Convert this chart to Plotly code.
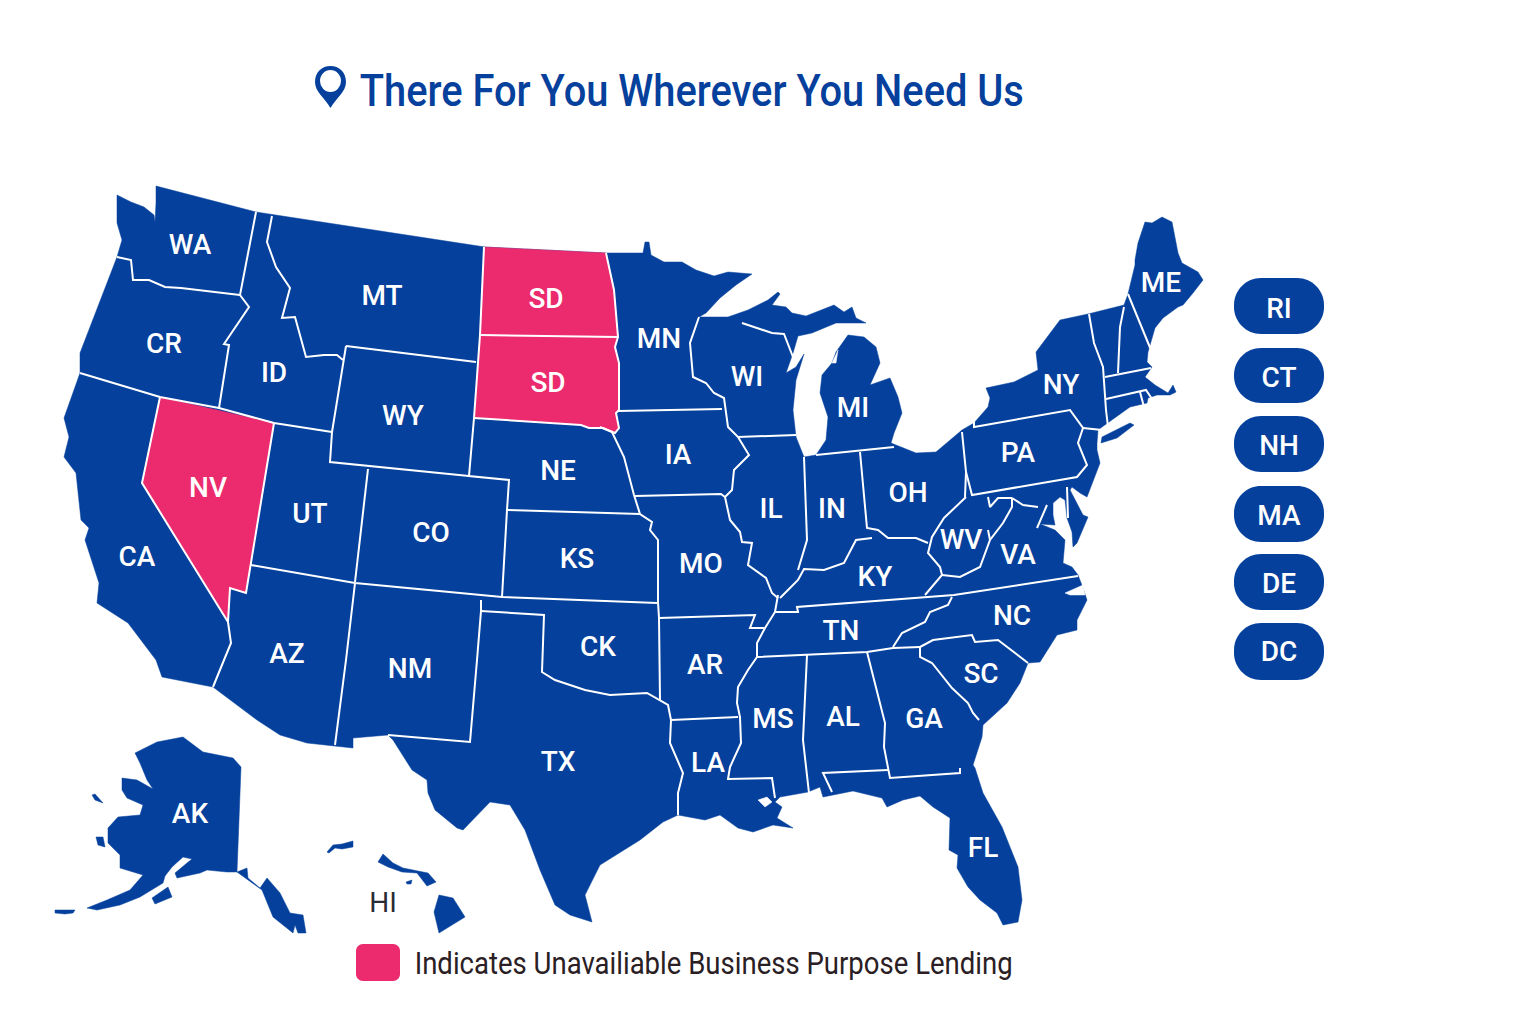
import plotly.graph_objects as go

BLUE = "#04409c"
PINK = "#ec2a6e"

TITLE = "There For You Wherever You Need Us"
LEGEND_TEXT = "Indicates Unavailiable Business Purpose Lending"

# State labels as printed on the map (the source prints CR, CK and two SDs)
MAP_LABELS = ["WA","CR","ID","MT","SD","SD","WY","NV","UT","CO","NE","KS","CA","AZ","NM","CK","TX",
              "MN","WI","MI","IA","IL","IN","OH","MO","AR","LA","MS","AL","TN","KY","GA","SC","NC",
              "FL","WV","VA","PA","NY","ME","AK"]
MAP_LABEL_X = [190,164,274,382,546,548,403,208,310,431,558,577,137,287,410,598,558,
               659,747,853,678,771,832,908,701,705,708,773,843,841,875,924,981,1012,
               983,961,1018,1018,1061,1161,190]
MAP_LABEL_Y = [247,346,375,298,301,385,418,490,516,535,473,561,559,656,671,649,764,
               341,379,410,457,511,511,495,566,667,765,721,719,633,579,721,676,618,
               850,542,557,455,387,285,816]

SIDE_LABELS = ["RI","CT","NH","MA","DE","DC"]
SIDE_LABEL_Y = [311,380,448,518,586,654]
SIDE_TOP = [278,348,416,486,554,623]
SIDE_BOTTOM = [334,403,472,542,610,680]

MAINLAND = [(156,186),(256,212),(485,247),(606,253),(643,253),(645,242),(649,242),(651,255),(664,262),(682,262),
 (696,270),(714,276),(728,272),(752,274),(736,285),(720,298),(706,313),(699,317),(728,317),(748,310),(768,300),
 (778,292),(780,294),(772,305),(786,307),(792,313),(806,316),(834,305),(844,312),(852,307),(856,318),(866,323),
 (856,323),(836,323),(812,333),(798,336),(793,353),(786,373),(796,367),(804,354),(796,380),(793,410),(796,437),
 (804,457),(816,455),(826,440),(828,417),(820,393),(822,375),(832,363),(836,352),(848,335),(864,337),(876,347),
 (880,363),(870,385),(890,378),(898,397),(902,413),(894,433),(891,443),(916,453),(936,452),(962,430),(974,423),
 (988,407),(990,398),(986,388),(1014,382),(1038,370),(1036,352),(1060,320),(1088,314),(1124,305),(1128,294),
 (1135,265),(1135,260),(1138,243),(1145,222),(1152,223),(1162,217),(1172,222),(1178,253),(1182,263),(1198,272),
 (1203,280),(1193,293),(1183,305),(1178,307),(1163,318),(1155,328),(1148,352),(1147,362),(1152,367),(1145,377),
 (1155,385),(1168,393),(1173,385),(1176,392),(1170,395),(1157,395),(1148,398),(1147,403),(1130,407),(1102,427),
 (1098,430),(1097,443),(1097,450),(1100,463),(1087,497),(1080,493),(1072,487),(1070,490),(1083,515),(1088,517),
 (1077,543),(1073,547),(1072,532),(1067,518),(1065,500),(1060,497),(1053,503),(1053,515),(1055,525),(1040,524),
 (1055,530),(1065,540),(1063,563),(1072,567),(1078,575),(1083,588),(1087,600),(1077,620),(1077,630),(1057,635),
 (1040,662),(1028,663),(1020,683),(1007,703),(983,725),(982,737),(973,765),(975,768),(983,793),(1002,827),
 (1018,867),(1022,900),(1018,922),(1003,925),(997,913),(980,900),(968,887),(957,868),(958,855),(949,850),(950,818),
 (933,807),(920,796),(903,800),(887,807),(882,798),(853,791),(823,797),(820,787),(808,792),(780,797),(775,802),
 (782,807),(777,818),(793,828),(773,825),(753,832),(738,828),(720,815),(705,820),(678,815),(663,822),(640,840),
 (600,865),(585,895),(592,922),(570,915),(555,905),(540,870),(525,830),(510,805),(490,802),(463,830),(457,828),
 (435,810),(428,793),(427,780),(412,770),(393,740),(388,735),(353,738),(353,748),(335,746),(307,743),(280,735),
 (257,720),(213,687),(162,677),(156,660),(128,623),(97,603),(99,583),(85,540),(89,528),(81,520),(76,473),(64,457),
 (69,437),(64,418),(80,373),(80,353),(117,257),(122,240),(117,223),(117,195),(131,202),(144,207),(154,215),
 (155,222),(156,203)]

LONG_ISLAND = [(1102,437),(1130,423),(1134,425),(1117,438),(1101,443)]

ALASKA = [(135,753),(157,742),(183,737),(203,752),(233,758),(241,767),(237,872),(247,868),(248,878),(260,888),
 (267,878),(280,893),(290,913),(303,915),(306,933),(298,933),(295,925),(293,933),(273,917),(262,890),(237,872),
 (227,872),(207,870),(200,873),(177,878),(175,873),(187,863),(192,859),(183,857),(172,867),(165,876),(163,883),
 (140,897),(120,905),(97,910),(87,908),(107,900),(130,890),(143,875),(120,868),(120,855),(108,843),(108,828),
 (118,817),(140,815),(143,805),(127,798),(122,790),(122,778),(137,780),(153,789),(147,780),(140,763)]
KODIAK = [(152,898),(168,887),(172,897),(155,904)]
ALEUTIAN = [(55,910),(75,910),(73,913),(65,914),(55,913)]
NUNIVAK = [(96,837),(103,837),(105,847),(98,845)]
ST_LAWRENCE = [(92,795),(95,794),(103,803),(95,800)]

KAUAI_OAHU = [(327,852),(333,845),(342,844),(353,841),(353,847),(342,849),(335,848),(329,853)]
MOLOKAI_MAUI = [(383,854),(393,863),(403,868),(417,871),(428,873),(436,882),(427,886),(417,873),(402,872),(388,867),(378,862)]
LANAI = [(406,882),(412,880),(411,884),(407,884)]
BIG_ISLAND = [(439,895),(453,898),(465,917),(439,933),(434,912)]

# White water cut out of the land
DELTA_WATER = [(758,800),(767,797),(772,802),(765,807)]
PAMLICO_WATER = [(1065,593),(1083,585),(1085,595),(1070,595)]
TRAVERSE_WATER = [(832,363),(838,350),(836,363)]

NEVADA = [(160,397),(274,423),(246,593),(230,588),(228,622),(142,483)]
NORTH_DAKOTA_BOX = [(484,247),(606,253),(614,290),(618,337),(480,335)]
SOUTH_DAKOTA = [(480,335),(618,337),(615,347),(619,363),(619,410),(616,413),(619,428),(615,433),(603,428),(589,428),
                (581,425),(474,418)]

BORDERS = [
 [(117,257),(131,260),(133,280),(149,280),(165,287),(181,288),(240,295)],
 [(256,212),(240,295),(249,307),(231,333),(224,344),(229,345),(219,408)],
 [(80,373),(160,397),(219,408),(274,423),(332,432)],
 [(160,397),(142,483),(228,622),(230,588),(246,593),(274,423)],
 [(272,216),(267,242),(276,267),(290,288),(282,318),(295,317),(306,357),(324,355),(337,355),(343,360)],
 [(346,346),(476,362)],
 [(346,346),(332,432),(330,462),(469,476)],
 [(368,469),(355,582)],
 [(484,247),(480,335),(474,418),(469,476),(509,480),(507,510),(502,597)],
 [(507,510),(640,514)],
 [(251,565),(355,583),(502,597),(657,603)],
 [(355,583),(346,660),(335,745)],
 [(481,600),(481,611),(477,660),(470,742),(388,735)],
 [(481,611),(544,615),(542,672),(555,680),(585,690),(610,695),(647,693),(660,700),(668,705),(671,720)],
 [(228,622),(231,643),(224,660),(213,687)],
 [(480,335),(618,337)],
 [(606,253),(614,290),(618,337),(615,347),(619,363),(619,410),(616,413),(619,428),(615,433),(603,428),(589,428),(581,425),(474,418)],
 [(600,427),(612,432),(624,457),(634,495),(640,514),(652,522),(650,530),(658,540),(658,602),(659,618),(660,700)],
 [(671,720),(670,743),(683,773),(678,793),(678,815)],
 [(671,720),(738,717)],
 [(659,618),(755,615),(750,628),(764,628)],
 [(778,595),(775,612),(765,628),(757,643),(757,657),(748,670),(738,687),(737,703),(740,717),(741,743),(730,767),(728,779),(772,778),(775,798)],
 [(757,657),(805,655),(867,652),(893,648),(920,647)],
 [(775,612),(798,612),(797,607),(954,595),(1078,576)],
 [(952,597),(948,605),(930,612),(925,622),(902,633),(893,647)],
 [(807,655),(803,740),(809,793)],
 [(867,652),(885,723),(884,747),(888,770),(890,778),(960,773),(960,768)],
 [(832,792),(823,773),(888,770)],
 [(920,647),(920,657),(932,663),(952,688),(968,703),(973,713),(979,720)],
 [(920,647),(933,640),(972,635),(975,642),(998,640),(1028,663)],
 [(925,595),(942,575),(940,567),(928,553),(932,537),(944,518),(966,497)],
 [(872,538),(856,540),(844,563),(824,570),(804,569),(798,580),(788,590),(780,598)],
 [(860,452),(867,528),(878,530),(888,538),(916,538),(928,543)],
 [(804,457),(807,540),(798,570)],
 [(816,455),(894,447)],
 [(962,432),(966,472),(965,497)],
 [(966,472),(972,495),(1077,477),(1087,465),(1078,443),(1083,428),(1070,410),(974,427),(974,422)],
 [(1083,428),(1102,430)],
 [(1089,314),(1094,343),(1103,367),(1106,410),(1108,427)],
 [(1124,307),(1120,327),(1118,373)],
 [(1128,294),(1151,350)],
 [(1105,377),(1151,368)],
 [(1106,399),(1140,392),(1146,390),(1154,402)],
 [(1140,392),(1144,407)],
 [(742,323),(772,333),(784,334),(793,357)],
 [(699,317),(690,343),(693,377),(706,383),(714,393),(724,398),(728,427),(738,437),(796,435)],
 [(618,411),(722,409)],
 [(738,437),(749,455),(734,470),(732,490),(725,497)],
 [(635,496),(721,494),(725,497),(730,520),(740,532),(742,542),(752,543),(748,565),(766,578),(772,593),(778,598)],
 [(942,575),(960,577),(980,567),(990,540),(1003,523),(1012,507),(1012,498),(1023,505),(1038,507)],
 [(988,497),(990,507),(998,498),(1012,498)],
 [(990,540),(988,530)],
 [(1047,505),(1037,528)],
 [(1067,487),(1068,518)],
]


def xs(points):
    return [p[0] for p in points] + [points[0][0]]


def ys(points):
    return [p[1] for p in points] + [points[0][1]]


def area(name, points, color):
    return go.Scatter(x=xs(points), y=ys(points), mode="lines", fill="toself", fillcolor=color,
                      line=dict(color=color, width=0.5), name=name, hoverinfo="name", showlegend=False)


def round_box(x0, y0, x1, y1, r, color):
    c = r * 0.448
    path = (f"M {x0+r} {y0} L {x1-r} {y0} C {x1-c} {y0} {x1} {y0+c} {x1} {y0+r} L {x1} {y1-r} "
            f"C {x1} {y1-c} {x1-c} {y1} {x1-r} {y1} L {x0+r} {y1} C {x0+c} {y1} {x0} {y1-c} {x0} {y1-r} "
            f"L {x0} {y0+r} C {x0} {y0+c} {x0+c} {y0} {x0+r} {y0} Z")
    return dict(type="path", path=path, fillcolor=color, line=dict(width=0), xref="x", yref="y", layer="below")


fig = go.Figure()
for name, pts in [("Mainland", MAINLAND), ("Long Island", LONG_ISLAND), ("Alaska", ALASKA), ("Kodiak", KODIAK),
                  ("Aleutians", ALEUTIAN), ("Nunivak", NUNIVAK), ("St Lawrence", ST_LAWRENCE),
                  ("Kauai-Oahu", KAUAI_OAHU), ("Molokai-Maui", MOLOKAI_MAUI), ("Lanai", LANAI), ("Hawaii", BIG_ISLAND)]:
    fig.add_trace(area(name, pts, BLUE))
for name, pts in [("water", DELTA_WATER), ("water", PAMLICO_WATER), ("water", TRAVERSE_WATER)]:
    fig.add_trace(area(name, pts, "#ffffff"))
for name, pts in [("NV", NEVADA), ("ND", NORTH_DAKOTA_BOX), ("SD", SOUTH_DAKOTA)]:
    fig.add_trace(area(name, pts, PINK))

bx, by = [], []
for seg in BORDERS:
    bx += [p[0] for p in seg] + [None]
    by += [p[1] for p in seg] + [None]
fig.add_trace(go.Scatter(x=bx, y=by, mode="lines", line=dict(color="#ffffff", width=2), hoverinfo="skip", showlegend=False))

label_font = dict(family="Roboto", size=28, color="#ffffff", weight=500)
fig.add_trace(go.Scatter(x=MAP_LABEL_X, y=MAP_LABEL_Y, text=MAP_LABELS, mode="text", textposition="middle center",
                         textfont=label_font, hoverinfo="skip", showlegend=False))
fig.add_trace(go.Scatter(x=[1279] * len(SIDE_LABELS), y=SIDE_LABEL_Y, text=SIDE_LABELS, mode="text",
                         textposition="middle center", textfont=label_font, hoverinfo="skip", showlegend=False))
fig.add_trace(go.Scatter(x=[383], y=[905], text=["HI"], mode="text", textposition="middle center",
                         textfont=dict(family="Roboto", size=28, color="#2b2b33"), hoverinfo="skip", showlegend=False))

shapes = [round_box(1234, a, 1324, b, 27, BLUE) for a, b in zip(SIDE_TOP, SIDE_BOTTOM)]
shapes.append(round_box(356, 944, 400, 981, 7, PINK))
shapes.append(dict(type="path", xref="x", yref="y", fillcolor=BLUE, line=dict(width=0), layer="above",
                   path="M 330.5 108 C 325 98 315 92 315 82 C 315 72 322 66 330.5 66 C 339 66 346 72 346 82 C 346 92 336 98 330.5 108 Z"))
shapes.append(dict(type="circle", xref="x", yref="y", x0=320, x1=341, y0=70, y1=92, fillcolor="#ffffff",
                   line=dict(width=0), layer="above"))

annotations = [
    dict(x=692, y=91, xref="x", yref="y", text=TITLE, showarrow=False, xanchor="center", yanchor="middle",
         font=dict(family="Roboto", size=44, color=BLUE, weight=500)),
    dict(x=713, y=963, xref="x", yref="y", text=LEGEND_TEXT, showarrow=False, xanchor="center", yanchor="middle",
         font=dict(family="Roboto", size=31, color="#2a2024")),
]

fig.update_layout(width=1536, height=1024, margin=dict(l=0, r=0, t=0, b=0), paper_bgcolor="#ffffff",
                  plot_bgcolor="#ffffff", shapes=shapes, annotations=annotations, showlegend=False,
                  xaxis=dict(range=[0, 1536], visible=False, fixedrange=True),
                  yaxis=dict(range=[1024, 0], visible=False, fixedrange=True))

# Squeeze the two long lines to the condensed widths they have in the reference
SQUEEZE = """
document.body.style.margin = '0';
function squeeze() {
  document.querySelectorAll('text.annotation-text').forEach(function (t) {
    var w = t.textContent.indexOf('There') === 0 ? 664 : 598;
    t.setAttribute('textLength', w);
    t.setAttribute('lengthAdjust', 'spacingAndGlyphs');
  });
}
squeeze();
setTimeout(squeeze, 50);
"""
fig.write_html("out.html", post_script=SQUEEZE, config={"displayModeBar": False})
